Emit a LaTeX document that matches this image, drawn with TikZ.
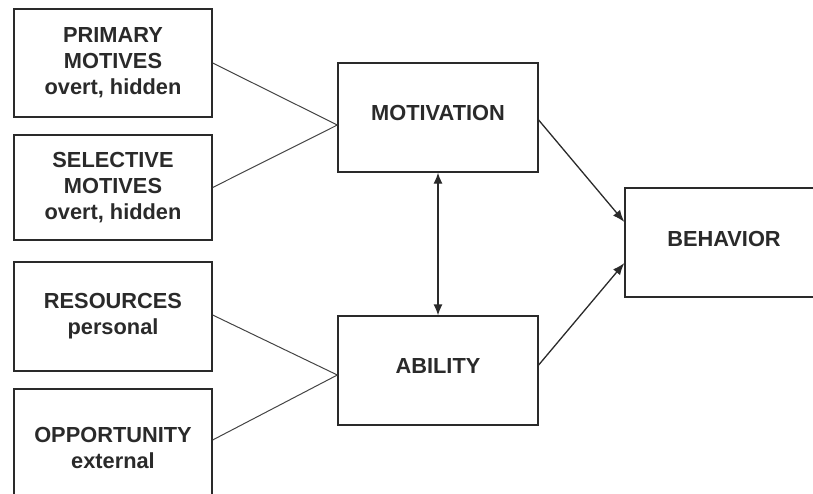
\documentclass[tikz,border=0pt]{standalone}
\usepackage{fontspec}
\setmainfont{Liberation Sans}
\usetikzlibrary{arrows.meta}
\definecolor{ink}{HTML}{2A2A2A}
\definecolor{wire}{HTML}{444444}
\tikzset{
  box/.style={draw=ink, line width=1.3pt, rectangle, minimum width=198pt, minimum height=108pt,
    inner sep=2pt, align=center, text=ink, font=\bfseries\fontsize{21.8}{26}\selectfont},
  bigbox/.style={box, minimum width=200pt, minimum height=109pt, text depth=9pt},
  feed/.style={draw=wire, line width=1pt},
  tip/.style={Latex[length=12pt,width=9pt]},
  arr/.style={draw=ink, line width=1.3pt, -{Latex[length=12pt,width=9pt]}},
  darr/.style={draw=ink, line width=1.3pt, {Latex[length=11pt,width=9pt]}-{Latex[length=11pt,width=9pt]}}
}
\begin{document}
\begin{tikzpicture}[x=1pt,y=-1pt]
\path[use as bounding box] (0,0) rectangle (813,493);
\clip (0,0) rectangle (813,493);
\node[box] (pm) at (113,63) {PRIMARY\\MOTIVES\\overt, hidden};
\node[box, minimum height=105pt] (sm) at (113,187.5) {SELECTIVE\\MOTIVES\\overt, hidden};
\node[box, minimum height=109pt] (rs) at (113,316.5) {RESOURCES\\personal};
\node[box, minimum height=117pt] (op) at (113,447.5) {OPPORTUNITY\\external};
\node[bigbox] (mot) at (438,117.5) {MOTIVATION};
\node[bigbox] (abl) at (438,370.5) {ABILITY};
\node[box, minimum height=109pt, text depth=7pt] (beh) at (724,242.5) {BEHAVIOR};
\coordinate (mj) at ([yshift=-7.5pt]mot.west);
\coordinate (aj) at ([yshift=-4.5pt]abl.west);
\draw[feed] (pm.east) -- (mj);
\draw[feed] (sm.east) -- (mj);
\draw[feed] ([yshift=1.5pt]rs.east) -- (aj);
\draw[feed] ([yshift=7.5pt]op.east) -- (aj);
\draw[darr] (mot.south) -- (abl.north);
\draw[arr] ([yshift=-2.5pt]mot.east) -- ([yshift=20.5pt]beh.west);
\draw[arr] ([yshift=5.5pt]abl.east) -- ([yshift=-20.5pt]beh.west);
\end{tikzpicture}
\end{document}
